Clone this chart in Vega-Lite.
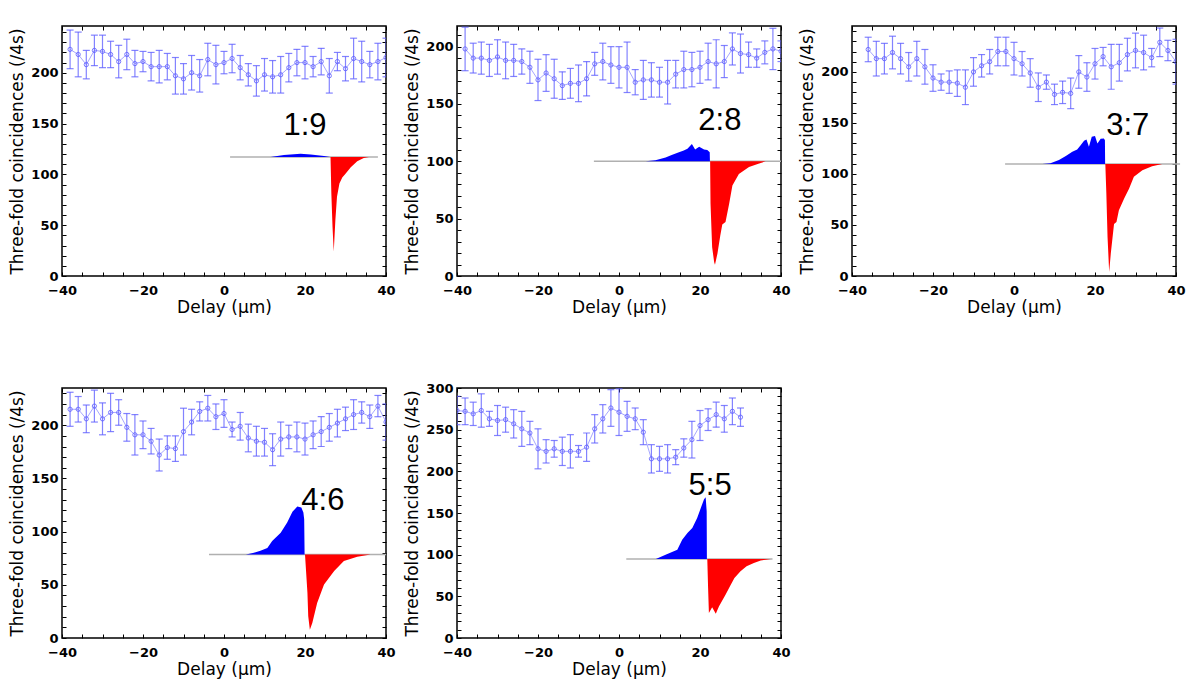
{
  "$schema": "https://vega.github.io/schema/vega-lite/v6.json",
  "background": "white",
  "padding": {"left": 8, "top": 24, "right": 5, "bottom": 5},
  "columns": 3,
  "spacing": {"row": 112, "column": 71},
  "bounds": "flush",
  "config": {
    "view": {"stroke": "black", "strokeWidth": 1.5},
    "axis": {"domain": false, "grid": false, "tickColor": "black", "tickSize": -4, "tickWidth": 1, "labelFont": "DejaVu Sans", "labelFontSize": 13, "labelFontWeight": "bold", "labelColor": "black", "labelFlush": false, "titleFont": "DejaVu Sans", "titleFontSize": 17, "titleFontWeight": "normal", "titleColor": "black"},
    "axisX": {"labelPadding": 12, "titlePadding": 2},
    "axisY": {"labelPadding": 8, "titlePadding": 4}
  },
  "datasets": {
    "p1": [
      {"x":-38,"y":223,"lo":204,"hi":242},{"x":-36,"y":218,"lo":196,"hi":240},{"x":-34,"y":208,"lo":194,"hi":222},{"x":-32,"y":222,"lo":207,"hi":237},{"x":-30,"y":221,"lo":205,"hi":237},{"x":-28,"y":218,"lo":205,"hi":231},{"x":-26,"y":211,"lo":195,"hi":227},{"x":-24,"y":218,"lo":203,"hi":233},{"x":-22,"y":209,"lo":196,"hi":222},{"x":-20,"y":211,"lo":201,"hi":221},{"x":-18,"y":206,"lo":192,"hi":220},{"x":-16,"y":206,"lo":190,"hi":222},{"x":-14,"y":206,"lo":193,"hi":219},{"x":-12,"y":197,"lo":179,"hi":215},{"x":-10,"y":194,"lo":179,"hi":209},{"x":-8,"y":200,"lo":183,"hi":217},{"x":-6,"y":197,"lo":181,"hi":213},{"x":-4,"y":213,"lo":197,"hi":229},{"x":-2,"y":208,"lo":189,"hi":227},{"x":0,"y":210,"lo":199,"hi":221},{"x":2,"y":214,"lo":200,"hi":228},{"x":4,"y":205,"lo":193,"hi":217},{"x":6,"y":198,"lo":187,"hi":209},{"x":8,"y":192,"lo":177,"hi":207},{"x":10,"y":198,"lo":182,"hi":214},{"x":12,"y":196,"lo":180,"hi":212},{"x":14,"y":198,"lo":180,"hi":216},{"x":16,"y":205,"lo":191,"hi":219},{"x":18,"y":210,"lo":197,"hi":223},{"x":20,"y":210,"lo":194,"hi":226},{"x":22,"y":206,"lo":196,"hi":216},{"x":24,"y":211,"lo":198,"hi":224},{"x":26,"y":197,"lo":180,"hi":214},{"x":28,"y":211,"lo":202,"hi":220},{"x":30,"y":204,"lo":192,"hi":216},{"x":32,"y":214,"lo":194,"hi":234},{"x":34,"y":211,"lo":191,"hi":231},{"x":36,"y":208,"lo":195,"hi":221},{"x":38,"y":211,"lo":193,"hi":229},{"x":40,"y":215,"lo":196,"hi":234}
    ],
    "p2": [
      {"x":-38,"y":198,"lo":179,"hi":217},{"x":-36,"y":190,"lo":177,"hi":203},{"x":-34,"y":190,"lo":176,"hi":204},{"x":-32,"y":188,"lo":174,"hi":202},{"x":-30,"y":191,"lo":176,"hi":206},{"x":-28,"y":188,"lo":172,"hi":204},{"x":-26,"y":188,"lo":174,"hi":202},{"x":-24,"y":187,"lo":176,"hi":198},{"x":-22,"y":182,"lo":168,"hi":196},{"x":-20,"y":171,"lo":153,"hi":189},{"x":-18,"y":177,"lo":161,"hi":193},{"x":-16,"y":172,"lo":155,"hi":189},{"x":-14,"y":166,"lo":154,"hi":178},{"x":-12,"y":168,"lo":155,"hi":181},{"x":-10,"y":168,"lo":152,"hi":184},{"x":-8,"y":172,"lo":157,"hi":187},{"x":-6,"y":185,"lo":175,"hi":195},{"x":-4,"y":187,"lo":171,"hi":203},{"x":-2,"y":184,"lo":168,"hi":200},{"x":0,"y":182,"lo":164,"hi":200},{"x":2,"y":182,"lo":160,"hi":204},{"x":4,"y":169,"lo":158,"hi":180},{"x":6,"y":171,"lo":154,"hi":188},{"x":8,"y":171,"lo":156,"hi":186},{"x":10,"y":169,"lo":156,"hi":182},{"x":12,"y":169,"lo":150,"hi":188},{"x":14,"y":176,"lo":164,"hi":188},{"x":16,"y":180,"lo":164,"hi":196},{"x":18,"y":180,"lo":165,"hi":195},{"x":20,"y":182,"lo":168,"hi":196},{"x":22,"y":187,"lo":171,"hi":203},{"x":24,"y":185,"lo":164,"hi":206},{"x":26,"y":187,"lo":173,"hi":201},{"x":28,"y":198,"lo":184,"hi":212},{"x":30,"y":194,"lo":177,"hi":211},{"x":32,"y":193,"lo":182,"hi":204},{"x":34,"y":190,"lo":182,"hi":198},{"x":36,"y":195,"lo":185,"hi":205},{"x":38,"y":198,"lo":180,"hi":216},{"x":40,"y":196,"lo":187,"hi":205}
    ],
    "p3": [
      {"x":-36,"y":222,"lo":210,"hi":234},{"x":-34,"y":213,"lo":196,"hi":230},{"x":-32,"y":213,"lo":198,"hi":228},{"x":-30,"y":219,"lo":203,"hi":235},{"x":-28,"y":213,"lo":198,"hi":228},{"x":-26,"y":205,"lo":191,"hi":219},{"x":-24,"y":213,"lo":196,"hi":230},{"x":-22,"y":205,"lo":188,"hi":222},{"x":-20,"y":194,"lo":181,"hi":207},{"x":-18,"y":190,"lo":182,"hi":198},{"x":-16,"y":190,"lo":179,"hi":201},{"x":-14,"y":189,"lo":176,"hi":202},{"x":-12,"y":185,"lo":168,"hi":202},{"x":-10,"y":200,"lo":186,"hi":214},{"x":-8,"y":206,"lo":195,"hi":217},{"x":-6,"y":210,"lo":198,"hi":222},{"x":-4,"y":220,"lo":206,"hi":234},{"x":-2,"y":220,"lo":206,"hi":234},{"x":0,"y":213,"lo":197,"hi":229},{"x":2,"y":208,"lo":196,"hi":220},{"x":4,"y":199,"lo":185,"hi":213},{"x":6,"y":185,"lo":171,"hi":199},{"x":8,"y":190,"lo":183,"hi":197},{"x":10,"y":178,"lo":168,"hi":188},{"x":12,"y":180,"lo":169,"hi":191},{"x":14,"y":179,"lo":164,"hi":194},{"x":16,"y":200,"lo":184,"hi":216},{"x":18,"y":195,"lo":181,"hi":209},{"x":20,"y":208,"lo":193,"hi":223},{"x":22,"y":215,"lo":206,"hi":224},{"x":24,"y":205,"lo":183,"hi":227},{"x":26,"y":209,"lo":191,"hi":227},{"x":28,"y":217,"lo":201,"hi":233},{"x":30,"y":221,"lo":204,"hi":238},{"x":32,"y":219,"lo":202,"hi":236},{"x":34,"y":214,"lo":205,"hi":223},{"x":36,"y":229,"lo":215,"hi":243},{"x":38,"y":221,"lo":211,"hi":231},{"x":40,"y":210,"lo":188,"hi":232}
    ],
    "p4": [
      {"x":-38,"y":215,"lo":199,"hi":231},{"x":-36,"y":215,"lo":203,"hi":227},{"x":-34,"y":206,"lo":193,"hi":219},{"x":-32,"y":218,"lo":203,"hi":233},{"x":-30,"y":206,"lo":191,"hi":221},{"x":-28,"y":212,"lo":194,"hi":230},{"x":-26,"y":212,"lo":200,"hi":224},{"x":-24,"y":198,"lo":185,"hi":211},{"x":-22,"y":191,"lo":172,"hi":210},{"x":-20,"y":191,"lo":178,"hi":204},{"x":-18,"y":185,"lo":173,"hi":197},{"x":-16,"y":172,"lo":157,"hi":187},{"x":-14,"y":179,"lo":168,"hi":190},{"x":-12,"y":178,"lo":166,"hi":190},{"x":-10,"y":194,"lo":172,"hi":216},{"x":-8,"y":203,"lo":191,"hi":215},{"x":-6,"y":213,"lo":204,"hi":222},{"x":-4,"y":216,"lo":204,"hi":228},{"x":-2,"y":208,"lo":196,"hi":220},{"x":0,"y":211,"lo":198,"hi":224},{"x":2,"y":196,"lo":189,"hi":203},{"x":4,"y":199,"lo":186,"hi":212},{"x":6,"y":188,"lo":175,"hi":201},{"x":8,"y":185,"lo":171,"hi":199},{"x":10,"y":184,"lo":171,"hi":197},{"x":12,"y":177,"lo":162,"hi":192},{"x":14,"y":187,"lo":171,"hi":203},{"x":16,"y":189,"lo":178,"hi":200},{"x":18,"y":189,"lo":175,"hi":203},{"x":20,"y":187,"lo":172,"hi":202},{"x":22,"y":191,"lo":178,"hi":204},{"x":24,"y":194,"lo":180,"hi":208},{"x":26,"y":198,"lo":185,"hi":211},{"x":28,"y":202,"lo":189,"hi":215},{"x":30,"y":206,"lo":195,"hi":217},{"x":32,"y":210,"lo":196,"hi":224},{"x":34,"y":212,"lo":202,"hi":222},{"x":36,"y":208,"lo":197,"hi":219},{"x":38,"y":218,"lo":208,"hi":228},{"x":40,"y":203,"lo":186,"hi":220}
    ],
    "p5": [
      {"x":-40,"y":273,"lo":256,"hi":290},{"x":-38,"y":272,"lo":256,"hi":288},{"x":-36,"y":269,"lo":255,"hi":283},{"x":-34,"y":273,"lo":253,"hi":293},{"x":-32,"y":263,"lo":254,"hi":272},{"x":-30,"y":261,"lo":243,"hi":279},{"x":-28,"y":262,"lo":247,"hi":277},{"x":-26,"y":257,"lo":240,"hi":274},{"x":-24,"y":251,"lo":230,"hi":272},{"x":-22,"y":246,"lo":232,"hi":260},{"x":-20,"y":227,"lo":203,"hi":251},{"x":-18,"y":224,"lo":210,"hi":238},{"x":-16,"y":227,"lo":217,"hi":237},{"x":-14,"y":224,"lo":207,"hi":241},{"x":-12,"y":224,"lo":204,"hi":244},{"x":-10,"y":224,"lo":217,"hi":231},{"x":-8,"y":229,"lo":212,"hi":246},{"x":-6,"y":251,"lo":234,"hi":268},{"x":-4,"y":263,"lo":246,"hi":280},{"x":-2,"y":276,"lo":254,"hi":298},{"x":0,"y":271,"lo":243,"hi":299},{"x":2,"y":266,"lo":248,"hi":284},{"x":4,"y":263,"lo":250,"hi":276},{"x":6,"y":247,"lo":232,"hi":262},{"x":8,"y":215,"lo":198,"hi":232},{"x":10,"y":215,"lo":200,"hi":230},{"x":12,"y":215,"lo":198,"hi":232},{"x":14,"y":217,"lo":208,"hi":226},{"x":16,"y":228,"lo":217,"hi":239},{"x":18,"y":238,"lo":216,"hi":260},{"x":20,"y":255,"lo":237,"hi":273},{"x":22,"y":262,"lo":249,"hi":275},{"x":24,"y":268,"lo":253,"hi":283},{"x":26,"y":263,"lo":247,"hi":279},{"x":28,"y":272,"lo":256,"hi":288},{"x":30,"y":265,"lo":254,"hi":276}
    ],
    "i1": [
      {"x":11.5,"v":117.2,"s":"blue"},{"x":14.8,"v":119,"s":"blue"},{"x":18.9,"v":120.2,"s":"blue"},{"x":21.4,"v":119.5,"s":"blue"},{"x":24.7,"v":118,"s":"blue"},{"x":26.2,"v":117.2,"s":"blue"},
      {"x":26.3,"v":117.2,"s":"red"},{"x":26.5,"v":82,"s":"red"},{"x":26.8,"v":48,"s":"red"},{"x":27.1,"v":24,"s":"red"},{"x":27.5,"v":55,"s":"red"},{"x":27.9,"v":78,"s":"red"},{"x":28.5,"v":91,"s":"red"},{"x":29.2,"v":97,"s":"red"},{"x":30,"v":100.5,"s":"red"},{"x":31.3,"v":107,"s":"red"},{"x":32.9,"v":113,"s":"red"},{"x":34.5,"v":116,"s":"red"},{"x":35.8,"v":117.2,"s":"red"}
    ],
    "i2": [
      {"x":6.6,"v":100,"s":"blue"},{"x":9,"v":101,"s":"blue"},{"x":11.5,"v":103.3,"s":"blue"},{"x":13,"v":105.5,"s":"blue"},{"x":14.8,"v":108,"s":"blue"},{"x":16,"v":109.5,"s":"blue"},{"x":16.9,"v":111,"s":"blue"},{"x":18,"v":115,"s":"blue"},{"x":18.8,"v":110.3,"s":"blue"},{"x":19.8,"v":112.7,"s":"blue"},{"x":21,"v":110.3,"s":"blue"},{"x":21.8,"v":109.8,"s":"blue"},{"x":22.4,"v":108,"s":"blue"},{"x":22.45,"v":100,"s":"blue"},
      {"x":22.5,"v":100,"s":"red"},{"x":22.6,"v":63,"s":"red"},{"x":23.0,"v":25,"s":"red"},{"x":23.5,"v":12,"s":"red"},{"x":23.7,"v":9.9,"s":"red"},{"x":24.3,"v":19.5,"s":"red"},{"x":25.0,"v":35,"s":"red"},{"x":25.5,"v":45,"s":"red"},{"x":26.3,"v":47,"s":"red"},{"x":27.2,"v":63,"s":"red"},{"x":28,"v":79,"s":"red"},{"x":29.6,"v":89,"s":"red"},{"x":32.1,"v":95,"s":"red"},{"x":34.6,"v":98,"s":"red"},{"x":36.2,"v":100,"s":"red"}
    ],
    "i3": [
      {"x":7,"v":109.7,"s":"blue"},{"x":9,"v":110.5,"s":"blue"},{"x":11.1,"v":113.6,"s":"blue"},{"x":12.8,"v":117.5,"s":"blue"},{"x":14.4,"v":121.7,"s":"blue"},{"x":15.6,"v":124,"s":"blue"},{"x":16.5,"v":128.3,"s":"blue"},{"x":17.3,"v":132.5,"s":"blue"},{"x":17.9,"v":133.8,"s":"blue"},{"x":18.5,"v":126.7,"s":"blue"},{"x":19.2,"v":136.5,"s":"blue"},{"x":20,"v":137.2,"s":"blue"},{"x":20.6,"v":129.9,"s":"blue"},{"x":21.4,"v":134.5,"s":"blue"},{"x":22.2,"v":134.8,"s":"blue"},{"x":22.45,"v":133,"s":"blue"},{"x":22.5,"v":109.7,"s":"blue"},
      {"x":22.55,"v":109.7,"s":"red"},{"x":22.8,"v":80.8,"s":"red"},{"x":23.1,"v":38,"s":"red"},{"x":23.5,"v":4,"s":"red"},{"x":23.9,"v":22,"s":"red"},{"x":24.7,"v":51,"s":"red"},{"x":25.3,"v":53,"s":"red"},{"x":25.9,"v":64.5,"s":"red"},{"x":27.2,"v":76,"s":"red"},{"x":28.4,"v":85.6,"s":"red"},{"x":29.6,"v":97.2,"s":"red"},{"x":31.7,"v":103.7,"s":"red"},{"x":34.1,"v":107.6,"s":"red"},{"x":36.6,"v":109.7,"s":"red"}
    ],
    "i4": [
      {"x":5.4,"v":78.6,"s":"blue"},{"x":7.4,"v":80.2,"s":"blue"},{"x":9,"v":82,"s":"blue"},{"x":10.7,"v":84.6,"s":"blue"},{"x":11.9,"v":91.2,"s":"blue"},{"x":14,"v":99,"s":"blue"},{"x":15.6,"v":108.5,"s":"blue"},{"x":16.9,"v":118.6,"s":"blue"},{"x":18.1,"v":123.6,"s":"blue"},{"x":19.1,"v":122.6,"s":"blue"},{"x":19.6,"v":118,"s":"blue"},{"x":19.8,"v":111.6,"s":"blue"},{"x":19.9,"v":78.6,"s":"blue"},
      {"x":20.0,"v":78.6,"s":"red"},{"x":20.6,"v":42.5,"s":"red"},{"x":20.8,"v":20.5,"s":"red"},{"x":21.2,"v":7.8,"s":"red"},{"x":21.8,"v":14.2,"s":"red"},{"x":23.0,"v":33,"s":"red"},{"x":24.7,"v":50.3,"s":"red"},{"x":27.2,"v":63,"s":"red"},{"x":29.6,"v":72.4,"s":"red"},{"x":32.9,"v":76.4,"s":"red"},{"x":36.2,"v":78.6,"s":"red"}
    ],
    "i5": [
      {"x":9.1,"v":94.7,"s":"blue"},{"x":11.5,"v":100,"s":"blue"},{"x":14.4,"v":106,"s":"blue"},{"x":15.6,"v":118,"s":"blue"},{"x":16.9,"v":126,"s":"blue"},{"x":18.1,"v":132,"s":"blue"},{"x":19.3,"v":144,"s":"blue"},{"x":20.2,"v":156,"s":"blue"},{"x":21.0,"v":166.5,"s":"blue"},{"x":21.4,"v":169,"s":"blue"},{"x":21.65,"v":152,"s":"blue"},{"x":21.7,"v":94.7,"s":"blue"},
      {"x":21.8,"v":94.7,"s":"red"},{"x":22.0,"v":60,"s":"red"},{"x":22.2,"v":30,"s":"red"},{"x":23.0,"v":37,"s":"red"},{"x":23.9,"v":29,"s":"red"},{"x":24.7,"v":38,"s":"red"},{"x":26.3,"v":52,"s":"red"},{"x":27.5,"v":63,"s":"red"},{"x":28.5,"v":72,"s":"red"},{"x":30,"v":80,"s":"red"},{"x":31.5,"v":86,"s":"red"},{"x":33.3,"v":90,"s":"red"},{"x":35,"v":93,"s":"red"},{"x":37.5,"v":94.7,"s":"red"}
    ]
  },
  "concat": [
    {
      "width": 324, "height": 250,
      "resolve": {"axis": {"x": "independent", "y": "independent"}},
      "layer": [
        {"data": {"name": "p1"}, "mark": {"type": "rule", "clip": true, "color": "#5a5aff", "opacity": 0.75, "strokeWidth": 1.2},
         "encoding": {"x": {"field": "x", "type": "quantitative", "scale": {"domain": [-40, 40], "nice": false}, "axis": {"orient": "bottom", "values": [-40,-35,-30,-25,-20,-15,-10,-5,0,5,10,15,20,25,30,35,40], "labelExpr": "datum.value % 20 === 0 ? datum.label : ''", "title": "Delay (μm)"}},
                      "y": {"field": "lo", "type": "quantitative", "scale": {"domain": [0, 246], "nice": false, "zero": false}, "axis": {"orient": "left", "values": [0,10,20,30,40,50,60,70,80,90,100,110,120,130,140,150,160,170,180,190,200,210,220,230,240], "labelExpr": "datum.value % 50 === 0 ? datum.label : ''", "title": "Three-fold coincidences (/4s)"}},
                      "y2": {"field": "hi"}}},
        {"data": {"name": "p1"}, "mark": {"type": "tick", "clip": true, "orient": "horizontal", "size": 7, "thickness": 1.2, "color": "#5a5aff", "opacity": 0.75},
         "encoding": {"x": {"field": "x", "type": "quantitative", "axis": {"orient": "top", "values": [-40,-35,-30,-25,-20,-15,-10,-5,0,5,10,15,20,25,30,35,40], "labels": false, "title": null}},
                      "y": {"field": "lo", "type": "quantitative", "axis": {"orient": "right", "values": [0,10,20,30,40,50,60,70,80,90,100,110,120,130,140,150,160,170,180,190,200,210,220,230,240], "labels": false, "title": null}}}},
        {"data": {"name": "p1"}, "mark": {"type": "tick", "clip": true, "orient": "horizontal", "size": 7, "thickness": 1.2, "color": "#5a5aff", "opacity": 0.75},
         "encoding": {"x": {"field": "x", "type": "quantitative", "axis": null}, "y": {"field": "hi", "type": "quantitative", "axis": null}}},
        {"data": {"name": "p1"}, "mark": {"type": "line", "clip": true, "color": "#6a6aff", "opacity": 0.6, "strokeWidth": 1},
         "encoding": {"x": {"field": "x", "type": "quantitative", "axis": null}, "y": {"field": "y", "type": "quantitative", "axis": null}}},
        {"data": {"name": "p1"}, "mark": {"type": "point", "clip": true, "filled": false, "size": 18, "color": "#5a5aff", "opacity": 0.8, "strokeWidth": 1},
         "encoding": {"x": {"field": "x", "type": "quantitative", "axis": null}, "y": {"field": "y", "type": "quantitative", "axis": null}}},
        {"data": {"values": [{"k": 1}]}, "mark": {"type": "rule", "color": "#b0b0b0", "strokeWidth": 1.5},
         "encoding": {"x": {"datum": 1.5, "type": "quantitative", "axis": null}, "x2": {"datum": 38}, "y": {"datum": 117.2, "type": "quantitative", "axis": null}}},
        {"data": {"name": "i1"}, "mark": {"type": "area", "clip": true},
         "encoding": {"x": {"field": "x", "type": "quantitative", "axis": null}, "y": {"field": "v", "type": "quantitative", "axis": null}, "y2": {"datum": 117.2},
                      "color": {"field": "s", "type": "nominal", "scale": {"domain": ["blue", "red"], "range": ["#0000ff", "#ff0000"]}, "legend": null}}},
        {"data": {"values": [{"label": "1:9"}]}, "mark": {"type": "text", "font": "Liberation Sans", "fontSize": 31, "align": "center", "baseline": "alphabetic", "color": "black"},
         "encoding": {"x": {"datum": 20, "type": "quantitative", "axis": null}, "y": {"datum": 139, "type": "quantitative", "axis": null}, "text": {"field": "label"}}}
      ]
    },
    {
      "width": 324, "height": 250,
      "resolve": {"axis": {"x": "independent", "y": "independent"}},
      "layer": [
        {"data": {"name": "p2"}, "mark": {"type": "rule", "clip": true, "color": "#5a5aff", "opacity": 0.75, "strokeWidth": 1.2},
         "encoding": {"x": {"field": "x", "type": "quantitative", "scale": {"domain": [-40, 40], "nice": false}, "axis": {"orient": "bottom", "values": [-40,-35,-30,-25,-20,-15,-10,-5,0,5,10,15,20,25,30,35,40], "labelExpr": "datum.value % 20 === 0 ? datum.label : ''", "title": "Delay (μm)"}},
                      "y": {"field": "lo", "type": "quantitative", "scale": {"domain": [0, 218], "nice": false, "zero": false}, "axis": {"orient": "left", "values": [0,10,20,30,40,50,60,70,80,90,100,110,120,130,140,150,160,170,180,190,200,210], "labelExpr": "datum.value % 50 === 0 ? datum.label : ''", "title": "Three-fold coincidences (/4s)"}},
                      "y2": {"field": "hi"}}},
        {"data": {"name": "p2"}, "mark": {"type": "tick", "clip": true, "orient": "horizontal", "size": 7, "thickness": 1.2, "color": "#5a5aff", "opacity": 0.75},
         "encoding": {"x": {"field": "x", "type": "quantitative", "axis": {"orient": "top", "values": [-40,-35,-30,-25,-20,-15,-10,-5,0,5,10,15,20,25,30,35,40], "labels": false, "title": null}},
                      "y": {"field": "lo", "type": "quantitative", "axis": {"orient": "right", "values": [0,10,20,30,40,50,60,70,80,90,100,110,120,130,140,150,160,170,180,190,200,210], "labels": false, "title": null}}}},
        {"data": {"name": "p2"}, "mark": {"type": "tick", "clip": true, "orient": "horizontal", "size": 7, "thickness": 1.2, "color": "#5a5aff", "opacity": 0.75},
         "encoding": {"x": {"field": "x", "type": "quantitative", "axis": null}, "y": {"field": "hi", "type": "quantitative", "axis": null}}},
        {"data": {"name": "p2"}, "mark": {"type": "line", "clip": true, "color": "#6a6aff", "opacity": 0.6, "strokeWidth": 1},
         "encoding": {"x": {"field": "x", "type": "quantitative", "axis": null}, "y": {"field": "y", "type": "quantitative", "axis": null}}},
        {"data": {"name": "p2"}, "mark": {"type": "point", "clip": true, "filled": false, "size": 18, "color": "#5a5aff", "opacity": 0.8, "strokeWidth": 1},
         "encoding": {"x": {"field": "x", "type": "quantitative", "axis": null}, "y": {"field": "y", "type": "quantitative", "axis": null}}},
        {"data": {"values": [{"k": 1}]}, "mark": {"type": "rule", "color": "#b0b0b0", "strokeWidth": 1.5},
         "encoding": {"x": {"datum": -6.2, "type": "quantitative", "axis": null}, "x2": {"datum": 40}, "y": {"datum": 100, "type": "quantitative", "axis": null}}},
        {"data": {"name": "i2"}, "mark": {"type": "area", "clip": true},
         "encoding": {"x": {"field": "x", "type": "quantitative", "axis": null}, "y": {"field": "v", "type": "quantitative", "axis": null}, "y2": {"datum": 100},
                      "color": {"field": "s", "type": "nominal", "scale": {"domain": ["blue", "red"], "range": ["#0000ff", "#ff0000"]}, "legend": null}}},
        {"data": {"values": [{"label": "2:8"}]}, "mark": {"type": "text", "font": "Liberation Sans", "fontSize": 31, "align": "center", "baseline": "alphabetic", "color": "black"},
         "encoding": {"x": {"datum": 24.9, "type": "quantitative", "axis": null}, "y": {"datum": 127.5, "type": "quantitative", "axis": null}, "text": {"field": "label"}}}
      ]
    },
    {
      "width": 324, "height": 250,
      "resolve": {"axis": {"x": "independent", "y": "independent"}},
      "layer": [
        {"data": {"name": "p3"}, "mark": {"type": "rule", "clip": true, "color": "#5a5aff", "opacity": 0.75, "strokeWidth": 1.2},
         "encoding": {"x": {"field": "x", "type": "quantitative", "scale": {"domain": [-40, 40], "nice": false}, "axis": {"orient": "bottom", "values": [-40,-35,-30,-25,-20,-15,-10,-5,0,5,10,15,20,25,30,35,40], "labelExpr": "datum.value % 20 === 0 ? datum.label : ''", "title": "Delay (μm)"}},
                      "y": {"field": "lo", "type": "quantitative", "scale": {"domain": [0, 245], "nice": false, "zero": false}, "axis": {"orient": "left", "values": [0,10,20,30,40,50,60,70,80,90,100,110,120,130,140,150,160,170,180,190,200,210,220,230,240], "labelExpr": "datum.value % 50 === 0 ? datum.label : ''", "title": "Three-fold coincidences (/4s)"}},
                      "y2": {"field": "hi"}}},
        {"data": {"name": "p3"}, "mark": {"type": "tick", "clip": true, "orient": "horizontal", "size": 7, "thickness": 1.2, "color": "#5a5aff", "opacity": 0.75},
         "encoding": {"x": {"field": "x", "type": "quantitative", "axis": {"orient": "top", "values": [-40,-35,-30,-25,-20,-15,-10,-5,0,5,10,15,20,25,30,35,40], "labels": false, "title": null}},
                      "y": {"field": "lo", "type": "quantitative", "axis": {"orient": "right", "values": [0,10,20,30,40,50,60,70,80,90,100,110,120,130,140,150,160,170,180,190,200,210,220,230,240], "labels": false, "title": null}}}},
        {"data": {"name": "p3"}, "mark": {"type": "tick", "clip": true, "orient": "horizontal", "size": 7, "thickness": 1.2, "color": "#5a5aff", "opacity": 0.75},
         "encoding": {"x": {"field": "x", "type": "quantitative", "axis": null}, "y": {"field": "hi", "type": "quantitative", "axis": null}}},
        {"data": {"name": "p3"}, "mark": {"type": "line", "clip": true, "color": "#6a6aff", "opacity": 0.6, "strokeWidth": 1},
         "encoding": {"x": {"field": "x", "type": "quantitative", "axis": null}, "y": {"field": "y", "type": "quantitative", "axis": null}}},
        {"data": {"name": "p3"}, "mark": {"type": "point", "clip": true, "filled": false, "size": 18, "color": "#5a5aff", "opacity": 0.8, "strokeWidth": 1},
         "encoding": {"x": {"field": "x", "type": "quantitative", "axis": null}, "y": {"field": "y", "type": "quantitative", "axis": null}}},
        {"data": {"values": [{"k": 1}]}, "mark": {"type": "rule", "color": "#b0b0b0", "strokeWidth": 1.5},
         "encoding": {"x": {"datum": -2.2, "type": "quantitative", "axis": null}, "x2": {"datum": 41}, "y": {"datum": 109.7, "type": "quantitative", "axis": null}}},
        {"data": {"name": "i3"}, "mark": {"type": "area", "clip": true},
         "encoding": {"x": {"field": "x", "type": "quantitative", "axis": null}, "y": {"field": "v", "type": "quantitative", "axis": null}, "y2": {"datum": 109.7},
                      "color": {"field": "s", "type": "nominal", "scale": {"domain": ["blue", "red"], "range": ["#0000ff", "#ff0000"]}, "legend": null}}},
        {"data": {"values": [{"label": "3:7"}]}, "mark": {"type": "text", "font": "Liberation Sans", "fontSize": 31, "align": "center", "baseline": "alphabetic", "color": "black"},
         "encoding": {"x": {"datum": 28.1, "type": "quantitative", "axis": null}, "y": {"datum": 138, "type": "quantitative", "axis": null}, "text": {"field": "label"}}}
      ]
    },
    {
      "width": 324, "height": 250,
      "resolve": {"axis": {"x": "independent", "y": "independent"}},
      "layer": [
        {"data": {"name": "p4"}, "mark": {"type": "rule", "clip": true, "color": "#5a5aff", "opacity": 0.75, "strokeWidth": 1.2},
         "encoding": {"x": {"field": "x", "type": "quantitative", "scale": {"domain": [-40, 40], "nice": false}, "axis": {"orient": "bottom", "values": [-40,-35,-30,-25,-20,-15,-10,-5,0,5,10,15,20,25,30,35,40], "labelExpr": "datum.value % 20 === 0 ? datum.label : ''", "title": "Delay (μm)"}},
                      "y": {"field": "lo", "type": "quantitative", "scale": {"domain": [0, 235], "nice": false, "zero": false}, "axis": {"orient": "left", "values": [0,10,20,30,40,50,60,70,80,90,100,110,120,130,140,150,160,170,180,190,200,210,220,230], "labelExpr": "datum.value % 50 === 0 ? datum.label : ''", "title": "Three-fold coincidences (/4s)"}},
                      "y2": {"field": "hi"}}},
        {"data": {"name": "p4"}, "mark": {"type": "tick", "clip": true, "orient": "horizontal", "size": 7, "thickness": 1.2, "color": "#5a5aff", "opacity": 0.75},
         "encoding": {"x": {"field": "x", "type": "quantitative", "axis": {"orient": "top", "values": [-40,-35,-30,-25,-20,-15,-10,-5,0,5,10,15,20,25,30,35,40], "labels": false, "title": null}},
                      "y": {"field": "lo", "type": "quantitative", "axis": {"orient": "right", "values": [0,10,20,30,40,50,60,70,80,90,100,110,120,130,140,150,160,170,180,190,200,210,220,230], "labels": false, "title": null}}}},
        {"data": {"name": "p4"}, "mark": {"type": "tick", "clip": true, "orient": "horizontal", "size": 7, "thickness": 1.2, "color": "#5a5aff", "opacity": 0.75},
         "encoding": {"x": {"field": "x", "type": "quantitative", "axis": null}, "y": {"field": "hi", "type": "quantitative", "axis": null}}},
        {"data": {"name": "p4"}, "mark": {"type": "line", "clip": true, "color": "#6a6aff", "opacity": 0.6, "strokeWidth": 1},
         "encoding": {"x": {"field": "x", "type": "quantitative", "axis": null}, "y": {"field": "y", "type": "quantitative", "axis": null}}},
        {"data": {"name": "p4"}, "mark": {"type": "point", "clip": true, "filled": false, "size": 18, "color": "#5a5aff", "opacity": 0.8, "strokeWidth": 1},
         "encoding": {"x": {"field": "x", "type": "quantitative", "axis": null}, "y": {"field": "y", "type": "quantitative", "axis": null}}},
        {"data": {"values": [{"k": 1}]}, "mark": {"type": "rule", "color": "#b0b0b0", "strokeWidth": 1.5},
         "encoding": {"x": {"datum": -3.7, "type": "quantitative", "axis": null}, "x2": {"datum": 40}, "y": {"datum": 78.6, "type": "quantitative", "axis": null}}},
        {"data": {"name": "i4"}, "mark": {"type": "area", "clip": true},
         "encoding": {"x": {"field": "x", "type": "quantitative", "axis": null}, "y": {"field": "v", "type": "quantitative", "axis": null}, "y2": {"datum": 78.6},
                      "color": {"field": "s", "type": "nominal", "scale": {"domain": ["blue", "red"], "range": ["#0000ff", "#ff0000"]}, "legend": null}}},
        {"data": {"values": [{"label": "4:6"}]}, "mark": {"type": "text", "font": "Liberation Sans", "fontSize": 31, "align": "center", "baseline": "alphabetic", "color": "black"},
         "encoding": {"x": {"datum": 24.4, "type": "quantitative", "axis": null}, "y": {"datum": 120, "type": "quantitative", "axis": null}, "text": {"field": "label"}}}
      ]
    },
    {
      "width": 324, "height": 250,
      "resolve": {"axis": {"x": "independent", "y": "independent"}},
      "layer": [
        {"data": {"name": "p5"}, "mark": {"type": "rule", "clip": true, "color": "#5a5aff", "opacity": 0.75, "strokeWidth": 1.2},
         "encoding": {"x": {"field": "x", "type": "quantitative", "scale": {"domain": [-40, 40], "nice": false}, "axis": {"orient": "bottom", "values": [-40,-35,-30,-25,-20,-15,-10,-5,0,5,10,15,20,25,30,35,40], "labelExpr": "datum.value % 20 === 0 ? datum.label : ''", "title": "Delay (μm)"}},
                      "y": {"field": "lo", "type": "quantitative", "scale": {"domain": [0, 300], "nice": false, "zero": false}, "axis": {"orient": "left", "values": [0,10,20,30,40,50,60,70,80,90,100,110,120,130,140,150,160,170,180,190,200,210,220,230,240,250,260,270,280,290,300], "labelExpr": "datum.value % 50 === 0 ? datum.label : ''", "title": "Three-fold coincidences (/4s)"}},
                      "y2": {"field": "hi"}}},
        {"data": {"name": "p5"}, "mark": {"type": "tick", "clip": true, "orient": "horizontal", "size": 7, "thickness": 1.2, "color": "#5a5aff", "opacity": 0.75},
         "encoding": {"x": {"field": "x", "type": "quantitative", "axis": {"orient": "top", "values": [-40,-35,-30,-25,-20,-15,-10,-5,0,5,10,15,20,25,30,35,40], "labels": false, "title": null}},
                      "y": {"field": "lo", "type": "quantitative", "axis": {"orient": "right", "values": [0,10,20,30,40,50,60,70,80,90,100,110,120,130,140,150,160,170,180,190,200,210,220,230,240,250,260,270,280,290,300], "labels": false, "title": null}}}},
        {"data": {"name": "p5"}, "mark": {"type": "tick", "clip": true, "orient": "horizontal", "size": 7, "thickness": 1.2, "color": "#5a5aff", "opacity": 0.75},
         "encoding": {"x": {"field": "x", "type": "quantitative", "axis": null}, "y": {"field": "hi", "type": "quantitative", "axis": null}}},
        {"data": {"name": "p5"}, "mark": {"type": "line", "clip": true, "color": "#6a6aff", "opacity": 0.6, "strokeWidth": 1},
         "encoding": {"x": {"field": "x", "type": "quantitative", "axis": null}, "y": {"field": "y", "type": "quantitative", "axis": null}}},
        {"data": {"name": "p5"}, "mark": {"type": "point", "clip": true, "filled": false, "size": 18, "color": "#5a5aff", "opacity": 0.8, "strokeWidth": 1},
         "encoding": {"x": {"field": "x", "type": "quantitative", "axis": null}, "y": {"field": "y", "type": "quantitative", "axis": null}}},
        {"data": {"values": [{"k": 1}]}, "mark": {"type": "rule", "color": "#b0b0b0", "strokeWidth": 1.5},
         "encoding": {"x": {"datum": 1.8, "type": "quantitative", "axis": null}, "x2": {"datum": 37.9}, "y": {"datum": 94.7, "type": "quantitative", "axis": null}}},
        {"data": {"name": "i5"}, "mark": {"type": "area", "clip": true},
         "encoding": {"x": {"field": "x", "type": "quantitative", "axis": null}, "y": {"field": "v", "type": "quantitative", "axis": null}, "y2": {"datum": 94.7},
                      "color": {"field": "s", "type": "nominal", "scale": {"domain": ["blue", "red"], "range": ["#0000ff", "#ff0000"]}, "legend": null}}},
        {"data": {"values": [{"label": "5:5"}]}, "mark": {"type": "text", "font": "Liberation Sans", "fontSize": 31, "align": "center", "baseline": "alphabetic", "color": "black"},
         "encoding": {"x": {"datum": 22.5, "type": "quantitative", "axis": null}, "y": {"datum": 172, "type": "quantitative", "axis": null}, "text": {"field": "label"}}}
      ]
    }
  ]
}
